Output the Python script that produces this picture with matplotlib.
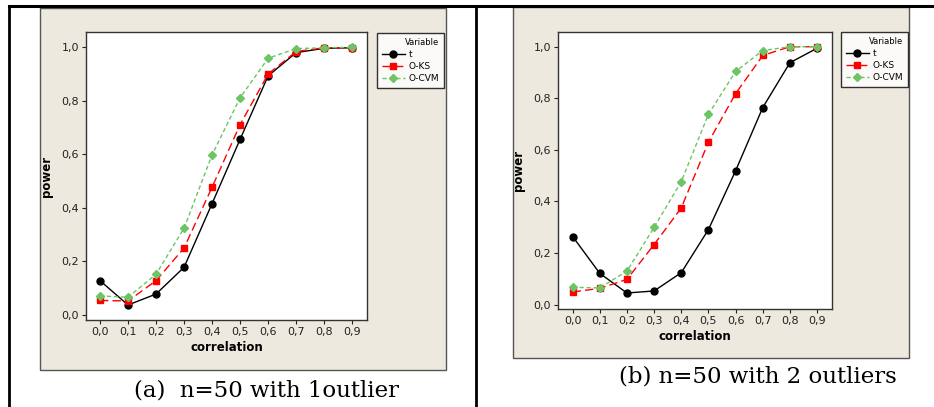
import matplotlib.pyplot as plt
from matplotlib.patches import Rectangle
from matplotlib.lines import Line2D
from matplotlib.ticker import FuncFormatter

# -----------------------------
# Data
# -----------------------------
correlation = [0.0, 0.1, 0.2, 0.3, 0.4, 0.5, 0.6, 0.7, 0.8, 0.9]
x_ticks = correlation

# (a) n=50 with 1 outlier
t_a = [0.128, 0.037, 0.078, 0.178, 0.416, 0.656, 0.893, 0.980, 0.996, 0.998]
oks_a = [0.054, 0.052, 0.128, 0.250, 0.477, 0.711, 0.900, 0.984, 0.998, 0.998]
ocvm_a = [0.071, 0.066, 0.152, 0.324, 0.598, 0.811, 0.959, 0.995, 0.998, 1.000]

# (b) n=50 with 2 outliers
t_b = [0.264, 0.121, 0.045, 0.053, 0.124, 0.291, 0.519, 0.764, 0.938, 0.994]
oks_b = [0.049, 0.063, 0.098, 0.233, 0.375, 0.630, 0.818, 0.966, 1.000, 1.000]
ocvm_b = [0.067, 0.065, 0.130, 0.300, 0.477, 0.738, 0.904, 0.985, 1.000, 1.000]

y_ticks = [0.0, 0.2, 0.4, 0.6, 0.8, 1.0]
series_names = ["t", "O-KS", "O-CVM"]
captions = ["(a)  n=50 with 1outlier", "(b) n=50 with 2 outliers"]

W, H = 934, 407
BEIGE = "#ede9df"
GREEN = "#6cc464"

plt.rcParams['font.family'] = ['Liberation Sans Narrow', 'DejaVu Sans']

fig = plt.figure(figsize=(W / 100, H / 100), dpi=100)


def fx(px):
    return px / W


def fy(py):
    return 1 - py / H


def comma_fmt(v, pos):
    return f"{v:.1f}".replace(".", ",")


# table lines
fig.add_artist(Line2D([fx(9), 1.0], [fy(6), fy(6)], color="black", lw=2.2))
fig.add_artist(Line2D([fx(9), fx(9)], [fy(6), 0], color="black", lw=2.0))
fig.add_artist(Line2D([fx(476), fx(476)], [fy(6), 0], color="black", lw=2.0))

panels = [
    # beige box, axes box, legend box, caption center, data, xlim, ylim
    dict(box=(40, 8, 446, 370), ax=(86, 32, 367, 320), leg=(377, 33),
         cap=(267, 390), data=(t_a, oks_a, ocvm_a),
         xlim=(-0.05, 0.953), ylim=(-0.019, 1.057)),
    dict(box=(513, 7, 909, 358), ax=(558, 32, 832, 309), leg=(841, 32),
         cap=(758, 377), data=(t_b, oks_b, ocvm_b),
         xlim=(-0.054, 0.955), ylim=(-0.017, 1.057)),
]

for i, p in enumerate(panels):
    x0, y0, x1, y1 = p["box"]
    fig.add_artist(Rectangle((fx(x0), fy(y1)), fx(x1 - x0), (y1 - y0) / H,
                             facecolor=BEIGE, edgecolor="#555555", lw=1.0,
                             zorder=0))
    a0, b0, a1, b1 = p["ax"]
    ax = fig.add_axes([fx(a0), fy(b1), fx(a1 - a0), (b1 - b0) / H])
    ax.set_facecolor("white")

    t_vals, oks_vals, ocvm_vals = p["data"]
    ax.plot(correlation, t_vals, color="black", lw=1.0, marker="o",
            markersize=5, label=series_names[0])
    ax.plot(correlation, oks_vals, color="red", lw=1.0, ls=(0, (6, 3)),
            marker="s", markersize=4.6, label=series_names[1])
    ax.plot(correlation, ocvm_vals, color=GREEN, lw=1.0, ls=(0, (3, 2)),
            marker="D", markersize=4.4, label=series_names[2])

    ax.set_xlim(*p["xlim"])
    ax.set_ylim(*p["ylim"])
    ax.set_xticks(x_ticks)
    ax.set_yticks(y_ticks)
    ax.xaxis.set_major_formatter(FuncFormatter(comma_fmt))
    ax.yaxis.set_major_formatter(FuncFormatter(comma_fmt))
    ax.tick_params(direction="out", length=3, width=0.8, labelsize=8,
                   colors="#222222", pad=2)
    for s in ax.spines.values():
        s.set_color("#333333")
        s.set_linewidth(1.0)

    ax.set_xlabel("correlation", fontsize=8.5, fontweight="bold", labelpad=3)
    ax.set_ylabel("power", fontsize=8.5, fontweight="bold", labelpad=6)

    lx, ly = p["leg"]
    leg = fig.legend(*ax.get_legend_handles_labels(), title="Variable",
                     loc="upper left", bbox_to_anchor=(fx(lx), fy(ly)),
                     bbox_transform=fig.transFigure, fontsize=6.5,
                     title_fontsize=6, frameon=True, fancybox=False,
                     edgecolor="black", handlelength=2.6, handletextpad=0.4,
                     borderpad=0.5, labelspacing=0.35, borderaxespad=0)
    leg.get_frame().set_linewidth(1.0)
    leg.get_title().set_ha("right")
    leg._legend_box.align = "right"

    cx, cy = p["cap"]
    fig.text(fx(cx), fy(cy), captions[i], ha="center", va="center",
             fontsize=16.5, family=["DejaVu Serif"])

fig.savefig("out.png", dpi=100, facecolor="white")
